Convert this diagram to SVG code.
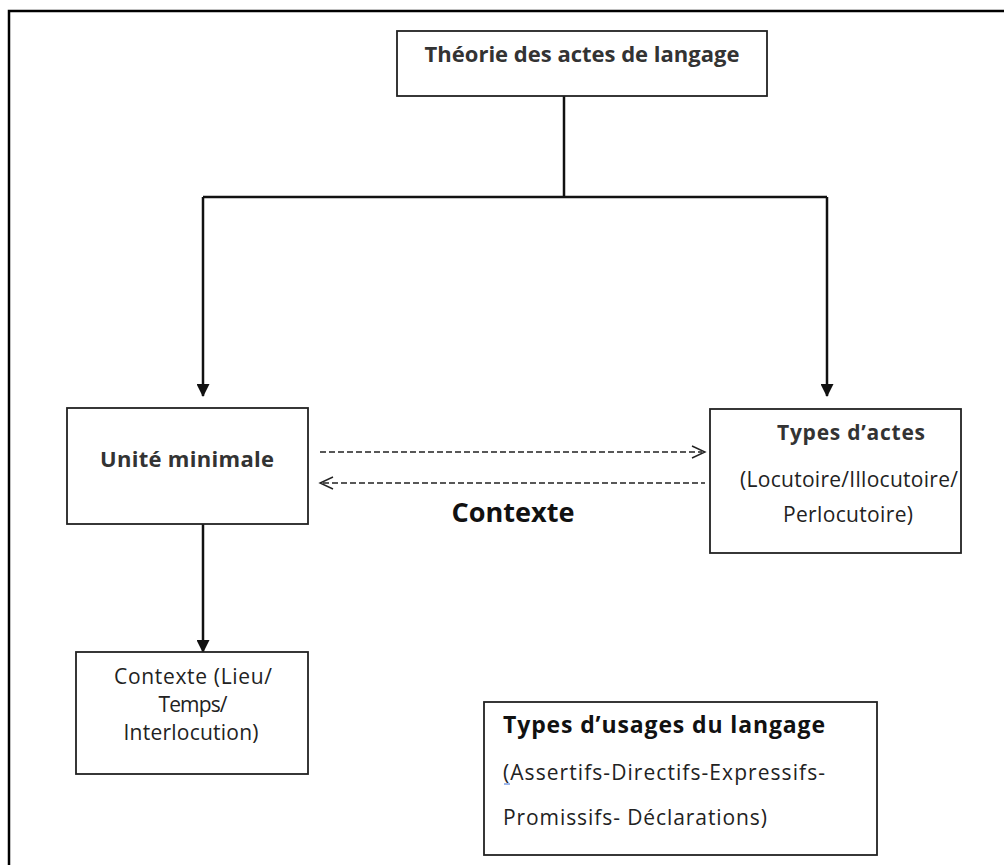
<svg xmlns="http://www.w3.org/2000/svg" width="1004" height="865" viewBox="0 0 1004 865">
<style>
.box{fill:#fff;stroke:#222;stroke-width:1.8}
.b{font-family:"Open Sans",Lato,sans-serif;font-weight:bold;fill:#333}
.bk{font-family:"Open Sans",Lato,sans-serif;font-weight:bold;fill:#111}
.r{font-family:"Open Sans",Lato,sans-serif;fill:#222}
.ln{fill:none;stroke:#111;stroke-width:2.5}
.dash{fill:none;stroke:#222;stroke-width:1.5;stroke-dasharray:6 3}
.chev{fill:none;stroke:#222;stroke-width:1.4}
</style>
<defs>
<marker id="ah" markerWidth="13" markerHeight="13" refX="12" refY="6.5" orient="auto" markerUnits="userSpaceOnUse">
<path d="M0,0 L13,6.5 L0,13 Z" fill="#111"/>
</marker>
</defs>
<rect width="1004" height="865" fill="#fff"/>
<g id="frame">
<path d="M9,865 V11 H1004" fill="none" stroke="#000" stroke-width="2.5"/>
</g>
<g id="connectors">
<path class="ln" d="M564,96 V197"/>
<path class="ln" d="M203,197 H827"/>
<path class="ln" d="M203,197 V396" marker-end="url(#ah)"/>
<path class="ln" d="M827,197 V396" marker-end="url(#ah)"/>
<path class="ln" d="M203,524 V652" marker-end="url(#ah)"/>
<path class="dash" d="M320,452 H702"/>
<path class="chev" d="M692,446 L705,452 L692,458"/>
<path class="dash" d="M323,483 H705"/>
<path class="chev" d="M333,477 L320,483 L333,489"/>
<text class="bk" x="513" y="522" font-size="26" text-anchor="middle" textLength="123" lengthAdjust="spacingAndGlyphs">Contexte</text>
</g>
<g id="n-theorie">
<rect class="box" x="397" y="31" width="370" height="65"/>
<text class="b" x="582" y="62" font-size="22" text-anchor="middle">Théorie des actes de langage</text>
</g>
<g id="n-unite">
<rect class="box" x="67" y="408" width="241" height="116"/>
<text class="b" x="187" y="467" font-size="22" text-anchor="middle" textLength="174" lengthAdjust="spacing">Unité minimale</text>
</g>
<g id="n-types-actes">
<rect class="box" x="710" y="409" width="251" height="144"/>
<text class="b" x="851" y="440" font-size="21" text-anchor="middle" textLength="148" lengthAdjust="spacing">Types d’actes</text>
<text class="r" x="849" y="487" font-size="21" text-anchor="middle" textLength="218" lengthAdjust="spacing">(Locutoire/Illocutoire/</text>
<text class="r" x="848" y="522" font-size="21" text-anchor="middle" textLength="130" lengthAdjust="spacing">Perlocutoire)</text>
</g>
<g id="n-contexte">
<rect class="box" x="76" y="652" width="232" height="122"/>
<text class="r" x="193" y="684" font-size="21" text-anchor="middle" textLength="158" lengthAdjust="spacing">Contexte (Lieu/</text>
<text class="r" x="193" y="712" font-size="21" text-anchor="middle" textLength="69" lengthAdjust="spacing">Temps/</text>
<text class="r" x="191" y="740" font-size="21" text-anchor="middle" textLength="135" lengthAdjust="spacing">Interlocution)</text>
</g>
<g id="n-usages">
<rect class="box" x="484" y="702" width="393" height="153"/>
<text class="bk" x="503" y="733" font-size="23" textLength="322" lengthAdjust="spacing">Types d’usages du langage</text>
<text class="r" x="503" y="780" font-size="21" textLength="322" lengthAdjust="spacing">(Assertifs-Directifs-Expressifs-</text>
<text class="r" x="503" y="825" font-size="21" textLength="264" lengthAdjust="spacing">Promissifs- Déclarations)</text>
<path d="M504,784 H510" stroke="#3b6fd8" stroke-width="1"/>
</g>
</svg>
